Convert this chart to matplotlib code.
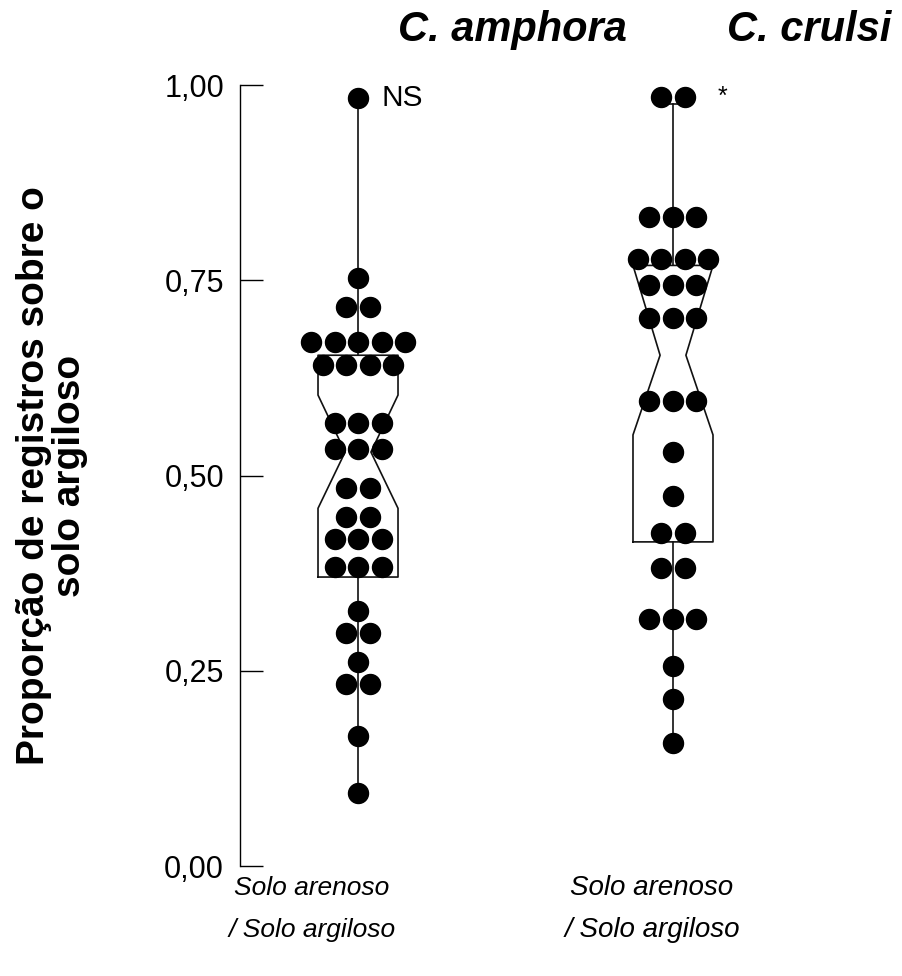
import numpy as np
import matplotlib
matplotlib.use("Agg")
from matplotlib import pyplot as plt

plt.rcParams['font.family'] = ['Liberation Sans', 'DejaVu Sans']

# species (titles) and x labels
species = ["C. amphora", "C. crulsi"]
xlabels = ["Solo arenoso\n/ Solo argiloso", "Solo arenoso\n/ Solo argiloso"]
signif = ["NS", "*"]

# proportion values per individual
amphora = [0.983, 0.753, 0.716, 0.716, 0.671, 0.671, 0.671, 0.671, 0.671,
           0.641, 0.641, 0.641, 0.641, 0.567, 0.567, 0.567, 0.534, 0.534, 0.534,
           0.484, 0.484, 0.447, 0.447, 0.419, 0.419, 0.419, 0.383, 0.383, 0.383,
           0.327, 0.298, 0.298, 0.261, 0.233, 0.233, 0.166, 0.093]
crulsi = [0.985, 0.985, 0.831, 0.831, 0.831, 0.777, 0.777, 0.777, 0.777,
          0.744, 0.744, 0.744, 0.702, 0.702, 0.702, 0.595, 0.595, 0.595,
          0.530, 0.474, 0.426, 0.426, 0.382, 0.382, 0.316, 0.316, 0.316,
          0.256, 0.214, 0.157]

# notched box statistics
q1 = [0.370, 0.415]
q3 = [0.654, 0.769]
med = [0.530, 0.654]
cilo = [0.458, 0.552]
cihi = [0.603, 0.769]
whislo = [0.093, 0.157]
whishi = [0.983, 0.976]

yticks = [0.0, 0.25, 0.5, 0.75, 1.0]
yticklabels = ["0,00", "0,25", "0,50", "0,75", "1,00"]

fig = plt.figure(figsize=(9.03, 9.76), dpi=100)
ax = fig.add_axes([0.2658, 0.1127, 0.7342, 0.8002])

w = 0.127      # box half width
nw = 0.041     # notch waist half width
cw = 0.03      # cap half width
step = 0.0746  # dot spacing

for i, vals in enumerate([amphora, crulsi]):
    p = i + 1
    bx = [p-w, p+w, p+w, p+nw, p+w, p+w, p-w, p-w, p-nw, p-w, p-w]
    by = [q1[i], q1[i], cilo[i], med[i], cihi[i], q3[i], q3[i], cihi[i], med[i], cilo[i], q1[i]]
    ax.plot(bx, by, color='#111111', lw=1.2, zorder=2)
    ax.plot([p, p], [q3[i], whishi[i]], color='#111111', lw=1.2, zorder=2)
    ax.plot([p, p], [q1[i], whislo[i]], color='#111111', lw=1.2, zorder=2)
    ax.plot([p-cw, p+cw], [whishi[i], whishi[i]], color='#111111', lw=1.2, zorder=2)
    ax.plot([p-cw, p+cw], [whislo[i], whislo[i]], color='#111111', lw=1.2, zorder=2)
    # dots spread side by side for tied values
    v = np.array(vals)
    xs = []
    ys = []
    for u in np.unique(v):
        n = np.sum(v == u)
        off = (np.arange(n) - (n - 1) / 2) * step
        xs.extend(p + off)
        ys.extend([u] * n)
    ax.plot(xs, ys, 'o', color='black', ms=14.4, mec='black', zorder=3, clip_on=False)

ax.text(1.076, whishi[0], signif[0], fontsize=21.5, ha='left', va='center')
ax.text(2.143, 0.985, signif[1], fontsize=18, ha='left', va='center')

ax.set_xlim(0.6254, 2.7302)
ax.set_ylim(0, 1)
ax.set_yticks(yticks)
ax.set_yticklabels(yticklabels)
ax.set_xticks([])
ax.tick_params(axis='y', direction='in', length=16.5, width=1.0, pad=11.5, labelsize=22)
for s in ['top', 'right', 'bottom']:
    ax.spines[s].set_visible(False)
ax.spines['left'].set_linewidth(1.0)
ax.spines['left'].set_bounds(0, 1)

ax.set_ylabel("Proporção de registros sobre o\nsolo argiloso", fontsize=28,
              fontweight='bold', linespacing=1.0)
ax.yaxis.set_label_coords(-0.229, 0.5)

fig.text(0.568, 0.969, species[0], fontsize=30, fontweight='bold', style='italic',
         ha='center', va='center')
fig.text(0.896, 0.969, species[1], fontsize=30, fontweight='bold', style='italic',
         ha='center', va='center')

xc = [0.3455, 0.722]
xs_size = [19, 20]
for i, lab in enumerate(xlabels):
    l1, l2 = lab.split("\n")
    fig.text(xc[i], 1 - 888 / 976, l1, fontsize=xs_size[i], style='italic', ha='center', va='center')
    fig.text(xc[i], 1 - 930 / 976, l2, fontsize=xs_size[i], style='italic', ha='center', va='center')

fig.savefig("out.png", dpi=100)
